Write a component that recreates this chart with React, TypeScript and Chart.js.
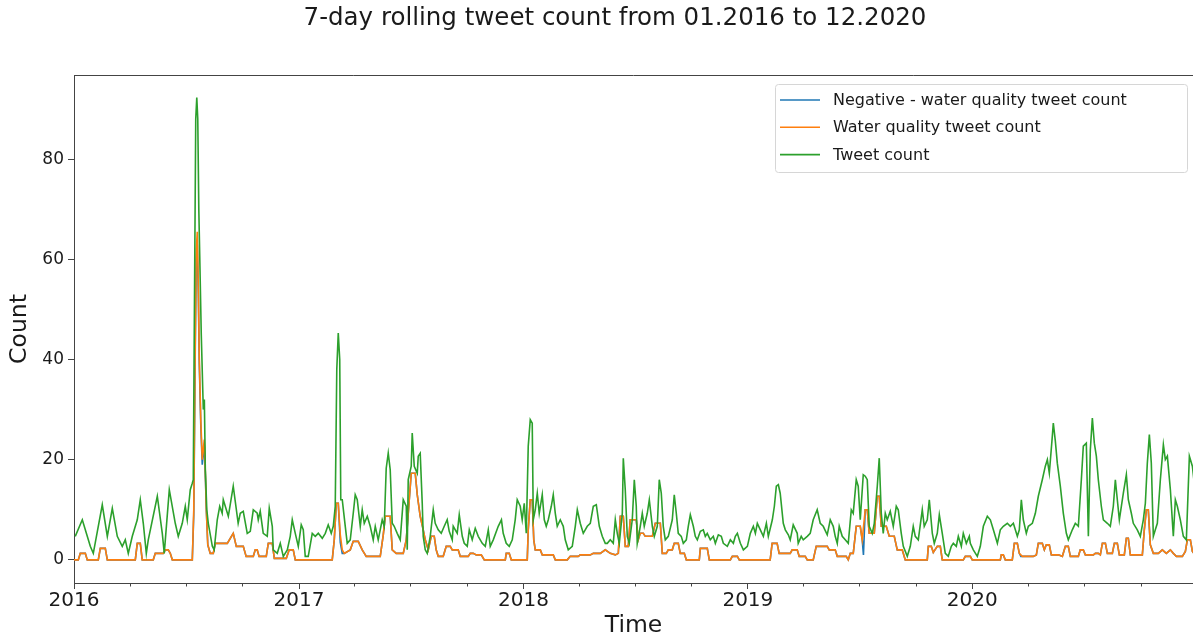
import React, { useEffect, useRef } from 'react';
import { Chart, registerables } from 'chart.js';

Chart.register(...registerables);

// x values are days since 2016-01-01
const TITLE = '7-day rolling tweet count from 01.2016 to 12.2020';
const SERIES_LABELS = ['Negative - water quality tweet count', 'Water quality tweet count', 'Tweet count'];
const SERIES_COLORS = ['#1f77b4', '#ff7f0e', '#2ca02c'];
const YEAR_TICK_DAYS = [0, 366, 731, 1096, 1461];
const YEAR_TICK_LABELS = ['2016', '2017', '2018', '2019', '2020'];
const Y_TICKS = [0, 20, 40, 60, 80];
const X_MIN = 0;
const X_MAX = 1820;
const Y_MIN = -4.62;
const Y_MAX = 96.8;

const tweetCount: [number, number][] = [
  [2,4.7],[13.5,8],[21.6,4.7],[26.5,2.7],[31.4,1.3],[46,11],[54.2,4.7],[62.3,10.3],[70.4,4.7],[78.5,2.7],
  [83.4,4],[88.3,1.3],[94.8,4.7],[102.9,8],[107.8,12],[112.7,7.3],[117.6,1.3],[120.8,4],[135.5,12.7],[143.6,5.3],
  [146.8,1.3],[155,14],[164.7,7.3],[169.6,4.7],[176.1,7.3],[181,10.7],[184.2,8],[189.1,14],[192.4,15.3],[194,16],
  [196.4,60],[198,88],[199.7,92.3],[201.3,88],[203,70],[204.6,60],[207,45],[210.3,30],[212,32],[213.6,18],
  [216,10],[218.4,7.3],[225,2.7],[228,2],[233,8],[237,10.7],[241,9.3],[242.8,12],[251,8.7],[259,14.7],
  [267,7.3],[270.4,9.3],[275.3,9.7],[281.8,5.3],[286.7,5.7],[291.6,10],[298,9.3],[299.7,8],[302.9,9.7],[307.8,5.3],
  [314.3,4.7],[317.6,10.3],[322.5,6.7],[324.1,2],[330.6,1.3],[335.5,3.3],[340.4,0.7],[346.9,2],[351.7,4.7],[355,8],
  [359.9,5.3],[364.8,2.7],[369.6,7],[372.9,6],[376.1,0.7],[381,0.7],[387.5,5.3],[392.4,4.7],[397.3,5.3],[403.8,4.3],
  [408.7,5.3],[413.5,7],[418.4,5.3],[421.7,6.7],[424.9,10.7],[427.4,38],[429.8,45.3],[432.2,40],[433.9,12],[436.3,12],
  [441.2,6.7],[444.4,3.3],[449.3,4],[454.2,9.3],[457.4,13],[460.7,12],[465.6,6.7],[468.8,10],[472.1,7.3],[477,8.7],
  [481.8,6.7],[486.7,4],[490,6.7],[494.8,4],[501.3,8],[504.6,6.7],[507.8,18.3],[511.1,21.3],[514.3,18],[517.6,7.3],
  [520.8,6.7],[525.7,5.3],[530.6,4],[535.5,12],[540.4,10.7],[542,2],[543.6,16],[548.5,18.7],[550.1,25.3],[553.4,18.7],
  [558.3,17.3],[559.9,20.7],[563.1,21.3],[566.4,11.3],[568,4.7],[571.3,2],[574.5,1.3],[579.4,4.7],[584.3,10],[587.5,7.3],
  [592.4,6],[597.3,5.3],[602.2,6.7],[607,8],[610.3,5.7],[615.2,4],[616.8,6.7],[623.3,5.3],[626.6,9],[631.5,4.7],
  [634.7,3.3],[639.6,2.7],[642.9,6],[647.7,4],[652.6,6.3],[657.5,4.7],[664,3.3],[668.9,2.7],[673.8,6],[677,2.7],
  [681.9,4],[690,6.7],[695.2,8],[698.1,5.3],[703,3.3],[707.9,2.7],[712.8,4],[717.6,8],[720.9,12],[725.8,10.7],
  [729,8],[732.3,11.3],[735.6,5.3],[738.8,22.7],[742.1,28],[745.3,27.3],[747,8],[750.2,10],[753.5,13.3],[756.7,9.3],
  [761.6,13],[764.9,8],[768.1,6.7],[771.4,8],[776.3,10.7],[779.5,13],[782.8,9.3],[786,6.7],[790.9,8],[795.8,6.7],
  [799,4],[803.9,2],[810.4,2.7],[815.3,6.7],[818.6,10],[823.4,7.3],[828.3,5.3],[834.8,6.7],[839.7,7.3],[844.6,10.7],
  [849.5,11],[854.4,6.7],[859.2,4.7],[864.1,3.3],[867.4,3.3],[872.2,4],[877.1,3.3],[880.4,8],[883.6,5.3],[886.9,3.3],
  [891.8,9.3],[893.4,20.3],[896.6,14],[899.9,4.7],[903.1,3.3],[908,8],[911.3,16],[914.5,10.7],[916.1,3.3],[921,6.7],
  [924.3,9.3],[927.5,6.7],[932.4,9.3],[935.7,12],[940.6,6.7],[943.8,4.7],[948.7,6.7],[951.9,16],[955.2,13.3],[958.4,6.7],
  [961.7,4],[966.6,4.7],[973.1,8],[976.3,13],[979.6,9.3],[982.8,5.3],[987.7,4.7],[991,3.3],[995.9,4],[999.1,6.7],
  [1002.4,9],[1007.3,6.7],[1010.5,4.7],[1013.8,4],[1018.7,5.7],[1023.5,6],[1026.8,4.7],[1030,5.3],[1034.9,4],[1039.8,4.7],
  [1043.1,3.3],[1048,5],[1052.8,4.7],[1056.1,3.3],[1062.6,2.7],[1067.5,4],[1072.4,3.3],[1075.6,4.7],[1078.9,5.3],[1083.8,3.3],
  [1088.7,2],[1095.2,2.7],[1100,5.3],[1104.9,6.7],[1108.2,5.3],[1111.4,7.3],[1116.3,6],[1121.2,4.7],[1126.1,7.3],[1129.3,4.7],
  [1135.8,8],[1139.1,10.7],[1142.3,14.7],[1145.6,15],[1148.6,13.3],[1153.6,7.3],[1156.9,6],[1161.8,5],[1164.9,4],[1169.8,7],
  [1176.3,5.3],[1177.9,3.3],[1182.8,4.7],[1186.1,4],[1192.6,4.7],[1197.4,5.3],[1202.3,8],[1208.8,10],[1213.7,7.3],[1218.6,6.7],
  [1225.1,5],[1230,8],[1234.9,6.7],[1238.1,4.7],[1241.4,3.3],[1244.6,6.7],[1249.5,4.7],[1254.4,4],[1259.3,3.3],[1264.2,10],
  [1267.4,9.3],[1272.3,16],[1275.5,14.7],[1278.8,8],[1283.7,17],[1286.9,16.7],[1290.2,16],[1293.4,6.7],[1298.3,5.3],[1301.6,7.3],
  [1306.5,14.7],[1309.7,20.3],[1313,9.3],[1316.2,5.3],[1319.5,9.3],[1322.7,8],[1327.6,9.7],[1332.5,6.7],[1337.4,10.7],[1340.6,10],
  [1345.5,5.3],[1348.8,2.7],[1355.3,0.7],[1360.2,2.7],[1365,6.7],[1368.3,4.7],[1373.2,4],[1379.7,10],[1382.9,6.7],[1387.8,8],
  [1391.1,12],[1396,5.3],[1399.2,3.3],[1404.1,5.3],[1407.4,9],[1412.2,5.3],[1417.1,1.3],[1422,0.7],[1426.9,2.7],[1430.2,3.3],
  [1435,2.7],[1438.3,4.7],[1443.2,2.7],[1446.4,5.3],[1451.3,3.3],[1456.2,4.7],[1457.8,3.3],[1462.7,2],[1469.2,0.7],[1474.1,2.7],
  [1479,6.7],[1485.5,8.7],[1490.4,8],[1495.3,6],[1501.8,3.3],[1506.6,6],[1511.5,6.7],[1518,7.3],[1522.9,6.7],[1527.8,7.3],
  [1534.3,4.7],[1537.5,6],[1540.8,12],[1544,8],[1548.9,5.3],[1552.2,6.7],[1558.7,7.3],[1563.6,9.3],[1568.4,12.7],[1574.9,16],
  [1579.8,18.7],[1583.1,20],[1586.3,17.3],[1591.2,24.7],[1592.8,27.3],[1596.1,23.7],[1599.3,19.3],[1604.2,14.7],[1609.1,9.3],[1614,5.3],
  [1617.2,4],[1623.7,6],[1628.6,7.3],[1633.5,6.7],[1638.4,16],[1641.6,22.7],[1646.5,23.3],[1649.8,4.7],[1653,22],[1656.3,28.3],
  [1659.5,23.3],[1662.8,20.7],[1666,16],[1670.9,10.7],[1674.2,8],[1680.7,7.3],[1685.5,6.7],[1690.4,10.7],[1693.7,16],[1696.9,12],
  [1700.2,8],[1706.7,13.3],[1711.6,17],[1714.8,12],[1719.7,9.3],[1722.9,7.3],[1729.4,6],[1734.3,4.7],[1739.2,8],[1742.5,11.3],
  [1745.7,19.3],[1749,25],[1752.2,19.3],[1755.5,4.7],[1758.7,6],[1762,7.3],[1766.9,16],[1771.8,23],[1775,20],[1778.3,20.7],
  [1783.2,14],[1788,4.7],[1791.3,12],[1794.5,10.7],[1799.4,8],[1804.3,4.7],[1809.2,4],[1814.1,20.7],[1819,18.7],[1825,12],
];

const waterQualityCount: [number, number][] = [
  [0,0],[7,0],[10.2,1.3],[18.4,1.3],[21.6,0],[39.5,0],[42.8,2.3],[50.9,2.3],[54.2,0],[99.7,0],
  [102.9,3.3],[107.8,3.3],[111,0],[128.9,0],[132.2,1.3],[145.2,1.3],[148.5,2],[153.3,2],[156.6,1.3],[159.9,0],
  [192.4,0],[194.8,10],[197.3,45],[198.9,62],[200.5,65.5],[202.2,55],[203.8,40],[206.2,28],[208.6,20],[211.9,24],
  [213.5,18],[215.2,10],[217.6,3],[221.6,1.3],[226.5,1.3],[229.8,3.3],[237.9,3.3],[249.3,3.3],[259,5.3],[264,2.7],
  [275.3,2.7],[280,0.7],[291.6,0.7],[294.8,2],[298,2],[301,0.7],[312.7,0.7],[316,3.3],[322.5,3.3],[325.8,0.3],
  [345.3,0.3],[350,2],[356.6,2],[359.9,0],[420,0],[423.3,4],[426.6,11.3],[429.8,11.3],[433.1,5],[436.3,2],
  [439.6,1.3],[449.3,2],[454.2,3.7],[462.3,3.7],[468.8,2],[475.3,0.7],[498.1,0.7],[503,5],[506.3,8.7],[514.3,8.7],
  [517.6,2],[524.1,1.3],[535.5,1.3],[540.4,4],[545.3,12],[548.5,17.3],[555,17.3],[558.3,13],[563.1,8.7],[568,6],
  [571.3,4],[576.2,2],[581,4.7],[585.9,4.7],[589.1,2],[592.4,0.7],[600.5,0.7],[605.4,2.7],[611.9,2.7],[615.2,2],
  [624.9,2],[628.2,0.7],[641.2,0.7],[644.5,1.3],[649.4,1.3],[654.2,1],[662.4,1],[667.3,0],[701.5,0],[703,1.3],
  [707.9,1.3],[711.2,0],[737.2,0],[738.8,6],[742.1,12],[745.3,12],[747.8,4],[750.2,2],[758.4,2],[761.6,1],
  [779.5,1],[782.8,0],[802.3,0],[807.1,0.7],[820.1,0.7],[823.4,1],[839.7,1],[844.6,1.3],[856,1.3],[864.1,2],
  [872.2,1.3],[880.4,1],[885.3,1.3],[888.5,8.7],[893.4,8.7],[896.6,2.7],[901.5,2.7],[904.7,8],[914.5,8],[917.7,4],
  [921,5.3],[925.9,5.3],[929.1,4.7],[940.6,4.7],[945.4,7.3],[953.6,7.3],[956.8,1.3],[963.3,1.3],[966.6,2],[973.1,2],
  [976.3,3.3],[982.8,3.3],[986.1,1.3],[992.6,1.3],[995.9,0],[1017,0],[1018.7,2.3],[1030,2.3],[1033.3,0],[1067.5,0],
  [1070.7,0.7],[1078.9,0.7],[1082.1,0],[1132.3,0],[1135.5,3.3],[1143.6,3.3],[1146.9,1.3],[1164.9,1.3],[1168.1,2],[1176.3,2],
  [1179.5,0.7],[1189.3,0.7],[1192.6,0],[1202.3,0],[1207.2,2.7],[1225.1,2.7],[1228.3,2],[1238.1,2],[1241.4,0.7],[1256,0.7],
  [1259.3,0],[1262.6,1.3],[1267.4,1.3],[1272.3,6.7],[1278.8,6.7],[1282,4],[1286.9,10],[1290.2,10],[1293.4,5.3],[1301.6,5.3],
  [1306.5,12.7],[1309.7,12.7],[1313,6.7],[1321.1,6.7],[1326,4.7],[1334.1,4.7],[1339,2],[1347.1,2],[1352,0],[1387.8,0],
  [1389.5,2.7],[1394.3,2.7],[1397.6,1.5],[1404.1,2.7],[1409,2.7],[1412.2,0],[1446.4,0],[1449.7,0.7],[1457.8,0.7],[1461,0],
  [1506.6,0],[1508.2,1],[1511.5,1],[1514.7,0],[1526.1,0],[1529.4,3.3],[1534.3,3.3],[1537.5,1.3],[1542.4,0.7],[1548.9,0.7],
  [1553.8,0.7],[1560.3,0.7],[1565.2,1],[1568.4,3.3],[1574.9,3.3],[1578.2,2],[1581.4,3],[1586.3,3],[1589.6,1],[1601,1],
  [1607.5,0.7],[1612.4,2.7],[1617.2,2.7],[1620.5,0.7],[1633.5,0.7],[1636.7,2],[1641.6,2],[1644.9,1],[1657.9,1],[1661.2,1.3],
  [1666,1.3],[1669.3,1],[1672.6,3.3],[1677.5,3.3],[1680.7,1.3],[1688.8,1.3],[1692.1,3.3],[1696.9,3.3],[1700.2,1],[1708.3,1],
  [1711.6,4.3],[1714.8,4.3],[1718.1,1],[1732.7,1],[1737.6,1],[1740.8,6],[1744.1,10],[1747.3,10],[1750.6,3],[1755.5,1.3],
  [1763.6,1.3],[1770.1,2],[1776.6,1.3],[1783.2,2],[1788,1.3],[1793,0.7],[1802.7,0.7],[1807.6,1.7],[1810.8,4],[1815.7,4],
  [1819,1.7],[1825,0.7],
];

// mostly coincides with the water-quality series (hidden beneath it)
const negativeCount: [number, number][] = [
  [0,0],[7,0],[10.2,1.3],[18.4,1.3],[21.6,0],[39.5,0],[42.8,2.3],[50.9,2.3],[54.2,0],[99.7,0],
  [102.9,3.3],[107.8,3.3],[111,0],[128.9,0],[132.2,1.3],[145.2,1.3],[148.5,2],[153.3,2],[156.6,1.3],[159.9,0],
  [192.4,0],[194.8,9],[197.3,43],[198.9,60],[200.5,63],[202.2,53],[203.8,39],[206.2,27],[208.6,19],[211.9,23],
  [213.5,17.5],[215.2,10],[217.6,3],[221.6,1.3],[226.5,1.3],[229.8,3.3],[237.9,3.3],[249.3,3.3],[259,5.3],[264,2.7],
  [275.3,2.7],[280,0.7],[291.6,0.7],[294.8,2],[298,2],[301,0.7],[312.7,0.7],[316,3.3],[322.5,3.3],[325.8,0.3],
  [345.3,0.3],[350,2],[356.6,2],[359.9,0],[420,0],[423.3,4],[426.6,11.3],[429.8,11.3],[433.1,3.5],[436.3,1.3],
  [439.6,1.3],[449.3,2],[454.2,3.7],[462.3,3.7],[468.8,2],[475.3,0.7],[498.1,0.7],[503,5],[506.3,8.7],[514.3,8.7],
  [517.6,2],[524.1,1.3],[535.5,1.3],[540.4,4],[545.3,12],[548.5,17.3],[555,17.3],[558.3,13],[563.1,8.7],[568,6],
  [571.3,4],[576.2,2],[581,4.7],[585.9,4.7],[589.1,2],[592.4,0.7],[600.5,0.7],[605.4,2.7],[611.9,2.7],[615.2,2],
  [624.9,2],[628.2,0.7],[641.2,0.7],[644.5,1.3],[649.4,1.3],[654.2,1],[662.4,1],[667.3,0],[701.5,0],[703,1.3],
  [707.9,1.3],[711.2,0],[737.2,0],[738.8,6],[742.1,12],[745.3,12],[747.8,4],[750.2,2],[758.4,2],[761.6,1],
  [779.5,1],[782.8,0],[802.3,0],[807.1,0.7],[820.1,0.7],[823.4,1],[839.7,1],[844.6,1.3],[856,1.3],[864.1,2],
  [872.2,1.3],[880.4,1],[885.3,1.3],[888.5,8.7],[893.4,8.7],[896.6,2.7],[901.5,2.7],[904.7,8],[914.5,8],[917.7,4],
  [921,5.3],[925.9,5.3],[929.1,4.7],[940.6,4.7],[945.4,7.3],[953.6,7.3],[956.8,1.3],[963.3,1.3],[966.6,2],[973.1,2],
  [976.3,3.3],[982.8,3.3],[986.1,1.3],[992.6,1.3],[995.9,0],[1017,0],[1018.7,2.3],[1030,2.3],[1033.3,0],[1067.5,0],
  [1070.7,0.7],[1078.9,0.7],[1082.1,0],[1132.3,0],[1135.5,3.3],[1143.6,3.3],[1146.9,1.3],[1164.9,1.3],[1168.1,2],[1176.3,2],
  [1179.5,0.7],[1189.3,0.7],[1192.6,0],[1202.3,0],[1207.2,2.7],[1225.1,2.7],[1228.3,2],[1238.1,2],[1241.4,0.7],[1256,0.7],
  [1259.3,0],[1262.6,1.3],[1267.4,1.3],[1272.3,6.7],[1278.8,6.7],[1282,4],[1284,1],[1286.9,10],[1290.2,10],[1293.4,5.3],[1301.6,5.3],
  [1306.5,12.7],[1309.7,12.7],[1313,6.7],[1321.1,6.7],[1326,4.7],[1334.1,4.7],[1339,2],[1347.1,2],[1352,0],[1387.8,0],
  [1389.5,2.7],[1394.3,2.7],[1397.6,1.5],[1404.1,2.7],[1409,2.7],[1412.2,0],[1446.4,0],[1449.7,0.7],[1457.8,0.7],[1461,0],
  [1506.6,0],[1508.2,1],[1511.5,1],[1514.7,0],[1526.1,0],[1529.4,3.3],[1534.3,3.3],[1537.5,1.3],[1540,0.7],[1548.9,0.7],
  [1553.8,0.7],[1560.3,0.7],[1565.2,1],[1568.4,3.3],[1574.9,3.3],[1578.2,2],[1581.4,3],[1586.3,3],[1589.6,1],[1601,1],
  [1607.5,0.7],[1612.4,2.7],[1617.2,2.7],[1620.5,0.7],[1633.5,0.7],[1636.7,2],[1641.6,2],[1644.9,1],[1657.9,1],[1661.2,1.3],
  [1666,1.3],[1669.3,1],[1672.6,3.3],[1677.5,3.3],[1680.7,1.3],[1688.8,1.3],[1692.1,3.3],[1696.9,3.3],[1700.2,1],[1708.3,1],
  [1711.6,4.3],[1714.8,4.3],[1718.1,1],[1732.7,1],[1737.6,1],[1740.8,6],[1744.1,10],[1747.3,10],[1750.6,3],[1755.5,1.3],
  [1763.6,1.3],[1770.1,2],[1776.6,1.3],[1783.2,2],[1788,1.3],[1793,0.7],[1802.7,0.7],[1807.6,1.7],[1810.8,4],[1815.7,4],
  [1819,1.7],[1825,0.7],
];

const FONT = 'DejaVu Sans';
const START = Date.UTC(2016, 0, 1);
const dayOf = (y: number, m: number) => (Date.UTC(y, m, 1) - START) / 86400000;

const axesPlugin = {
  id: 'axesExtras',
  afterDraw(chart: any) {
    const { ctx, chartArea } = chart;
    const xs = chart.scales.x;
    ctx.save();
    // figure title (figure is centred a little right of the visible crop)
    ctx.fillStyle = '#1a1a1a';
    ctx.font = `24.5px "${FONT}"`;
    ctx.textAlign = 'center';
    ctx.textBaseline = 'middle';
    ctx.fillText(TITLE, 615, 19);
    // top spine
    ctx.strokeStyle = '#444';
    ctx.lineWidth = 1;
    ctx.beginPath();
    ctx.moveTo(chartArea.left, Math.round(chartArea.top) + 0.5);
    ctx.lineTo(chartArea.right, Math.round(chartArea.top) + 0.5);
    ctx.stroke();
    // quarterly minor ticks
    ctx.beginPath();
    for (let y = 2016; y <= 2020; y++) {
      for (const m of [3, 6, 9]) {
        const px = Math.round(xs.getPixelForValue(dayOf(y, m))) + 0.5;
        ctx.moveTo(px, chartArea.bottom);
        ctx.lineTo(px, chartArea.bottom + 3.5);
      }
    }
    ctx.stroke();
    // legend
    const bx = 775.5, by = 84.5, bw = 412, bh = 88, r = 3;
    ctx.beginPath();
    ctx.moveTo(bx + r, by);
    ctx.lineTo(bx + bw - r, by);
    ctx.quadraticCurveTo(bx + bw, by, bx + bw, by + r);
    ctx.lineTo(bx + bw, by + bh - r);
    ctx.quadraticCurveTo(bx + bw, by + bh, bx + bw - r, by + bh);
    ctx.lineTo(bx + r, by + bh);
    ctx.quadraticCurveTo(bx, by + bh, bx, by + bh - r);
    ctx.lineTo(bx, by + r);
    ctx.quadraticCurveTo(bx, by, bx + r, by);
    ctx.closePath();
    ctx.fillStyle = 'rgba(255,255,255,0.85)';
    ctx.fill();
    ctx.strokeStyle = '#d6d6d6';
    ctx.stroke();
    ctx.font = `16px "${FONT}"`;
    ctx.textBaseline = 'middle';
    ctx.textAlign = 'left';
    SERIES_LABELS.forEach((label, i) => {
      const ly = 100 + i * 27.3;
      ctx.strokeStyle = SERIES_COLORS[i];
      ctx.lineWidth = 1.6;
      ctx.beginPath();
      ctx.moveTo(780, ly);
      ctx.lineTo(820, ly);
      ctx.stroke();
      ctx.fillStyle = '#1a1a1a';
      ctx.fillText(label, 833, ly + 1);
    });
    ctx.restore();
  },
};

export default function App() {
  const ref = useRef<HTMLCanvasElement | null>(null);
  useEffect(() => {
    if (!ref.current) return;
    const series = [negativeCount, waterQualityCount, tweetCount];
    const chart = new Chart(ref.current, {
      type: 'line',
      data: {
        datasets: series.map((s, i) => ({
          label: SERIES_LABELS[i],
          data: s.map(([d, v]) => ({ x: d, y: v })),
          borderColor: SERIES_COLORS[i],
          backgroundColor: SERIES_COLORS[i],
          borderWidth: 1.6,
          pointRadius: 0,
          tension: 0,
          fill: false,
          order: 3 - i,
        })),
      },
      options: {
        responsive: false,
        animation: false,
        devicePixelRatio: 1,
        layout: { padding: { left: 0, right: 0, top: 75, bottom: 0 } },
        plugins: {
          legend: { display: false },
          tooltip: { enabled: false },
          title: { display: false },
        },
        scales: {
          x: {
            type: 'linear',
            min: X_MIN,
            max: X_MAX,
            afterBuildTicks: (scale: any) => {
              scale.ticks = YEAR_TICK_DAYS.map((v) => ({ value: v }));
            },
            afterFit: (scale: any) => {
              scale.height = 55;
            },
            ticks: {
              autoSkip: false,
              maxRotation: 0,
              padding: 0,
              color: '#1a1a1a',
              font: { family: FONT, size: 20 },
              callback: (v: any) => {
                const idx = YEAR_TICK_DAYS.indexOf(Number(v));
                return idx >= 0 ? YEAR_TICK_LABELS[idx] : '';
              },
            },
            grid: { drawOnChartArea: false, drawTicks: true, tickLength: 6, tickColor: '#444' },
            border: { display: true, color: '#444', width: 1 },
            title: {
              display: true,
              text: 'Time',
              color: '#1a1a1a',
              font: { family: FONT, size: 23.5, lineHeight: 1.0 },
              padding: { top: 0, bottom: 0 },
            },
          },
          y: {
            type: 'linear',
            min: Y_MIN,
            max: Y_MAX,
            afterBuildTicks: (scale: any) => {
              scale.ticks = Y_TICKS.map((v) => ({ value: v }));
            },
            afterFit: (scale: any) => {
              scale.width = 74;
            },
            ticks: {
              padding: 4,
              color: '#1a1a1a',
              font: { family: FONT, size: 17 },
            },
            grid: { drawOnChartArea: false, drawTicks: true, tickLength: 6, tickColor: '#444' },
            border: { display: true, color: '#444', width: 1 },
            title: {
              display: true,
              text: 'Count',
              color: '#1a1a1a',
              font: { family: FONT, size: 23.5, lineHeight: 1.0 },
              padding: { top: 8, bottom: 0 },
            },
          },
        },
      },
      plugins: [axesPlugin],
    } as any);
    return () => chart.destroy();
  }, []);
  return (
    <div style={{ position: 'absolute', left: 0, top: 0, width: 1193, height: 638, background: '#fff' }}>
      <canvas ref={ref} width={1193} height={638} style={{ display: 'block' }} />
    </div>
  );
}
